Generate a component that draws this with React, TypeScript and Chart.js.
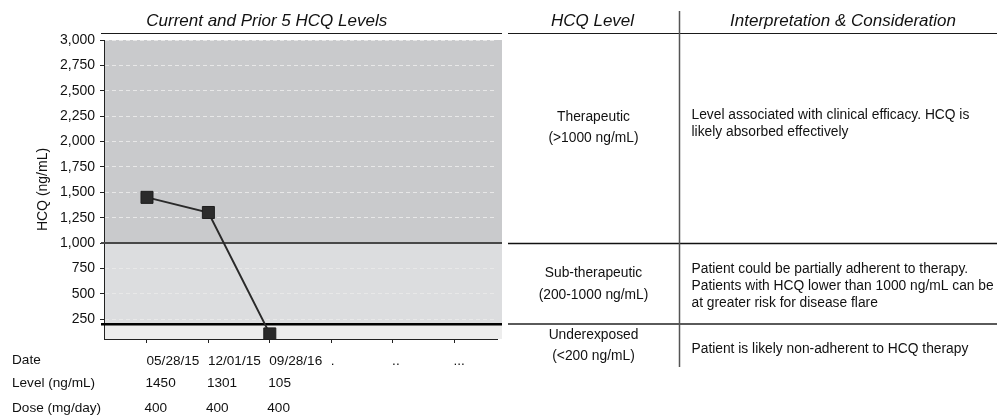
import React, { useEffect, useRef } from 'react';
import { Chart, registerables } from 'chart.js';

Chart.register(...registerables);

const FONT = '"Liberation Sans", Arial, Helvetica, sans-serif';

// ---- data ----
const dates = ['05/28/15', '12/01/15', '09/28/16', '.', '..', '...'];
const levels = [1450, 1301, 105];
const doses = [400, 400, 400];
const yTickValues = [250, 500, 750, 1000, 1250, 1500, 1750, 2000, 2250, 2500, 2750, 3000];
const therapeuticMin = 1000;
const underexposedMax = 200;
const rowLabels = ['Date', 'Level (ng/mL)', 'Dose (mg/day)'];
const chartTitle = 'Current and Prior 5 HCQ Levels';
const yTitle = 'HCQ (ng/mL)';
const tableHeaders = ['HCQ Level', 'Interpretation & Consideration'];
const levelNames = [
  ['Therapeutic', '(>1000 ng/mL)'],
  ['Sub-therapeutic', '(200-1000 ng/mL)'],
  ['Underexposed', '(<200 ng/mL)'],
];
const interpretations = [
  ['Level associated with clinical efficacy. HCQ is', 'likely absorbed effectively'],
  ['Patient could be partially adherent to therapy.', 'Patients with HCQ lower than 1000 ng/mL can be', 'at greater risk for disease flare'],
  ['Patient is likely non-adherent to HCQ therapy'],
];

// ---- layout (positions only) ----
const levelNameBaselines = [[121, 141.5], [276.7, 299], [339.3, 360]];
const interpBaselines = [[119, 135.7], [273.3, 290, 306.7], [353.3]];
const rowLabelBaselines = [363.5, 387, 412.3];
const rowValueBaselines = [365, 387.3, 412.3];

const overlayPlugin = {
  id: 'hcqOverlay',
  beforeDraw(chart: any) {
    const { ctx, chartArea, scales } = chart;
    const y = scales.y;
    const left = chartArea.left + 1;
    const right = chartArea.right + 5;
    const yT = y.getPixelForValue(therapeuticMin);
    const yU = y.getPixelForValue(underexposedMax);
    ctx.save();
    ctx.fillStyle = '#c9cacc';
    ctx.fillRect(left, chartArea.top, right - left, yT - chartArea.top);
    ctx.fillStyle = '#dcdddf';
    ctx.fillRect(left, yT, right - left, yU - yT);
    ctx.fillStyle = '#ededed';
    ctx.fillRect(left, yU, right - left, chartArea.bottom - yU);
    ctx.restore();
  },
  beforeDatasetsDraw(chart: any) {
    const { ctx, chartArea, scales } = chart;
    const y = scales.y;
    const yT = y.getPixelForValue(therapeuticMin);
    const yU = y.getPixelForValue(underexposedMax);
    const x1 = chartArea.left - 3;
    const x2 = chartArea.right + 5;
    ctx.save();
    ctx.strokeStyle = '#484848';
    ctx.lineWidth = 2;
    ctx.beginPath();
    ctx.moveTo(x1, yT);
    ctx.lineTo(x2, yT);
    ctx.stroke();
    ctx.strokeStyle = '#000';
    ctx.lineWidth = 2.5;
    ctx.beginPath();
    ctx.moveTo(x1, yU);
    ctx.lineTo(x2, yU);
    ctx.stroke();
    ctx.restore();
  },
  afterDraw(chart: any) {
    const { ctx, chartArea, scales } = chart;
    const x = scales.x;
    const y = scales.y;
    const yT = Math.round(y.getPixelForValue(therapeuticMin)) + 0.5;
    const yU = Math.round(y.getPixelForValue(underexposedMax));
    ctx.save();
    ctx.fillStyle = '#111';
    ctx.textBaseline = 'alphabetic';

    // titles
    ctx.font = `italic 17px ${FONT}`;
    ctx.textAlign = 'center';
    ctx.fillText(chartTitle, 266.7, 25.5);
    ctx.fillText(tableHeaders[0], 592.5, 25.5);
    ctx.fillText(tableHeaders[1], 843, 25.5);

    // header lines
    ctx.strokeStyle = '#1a1a1a';
    ctx.lineWidth = 1;
    ctx.beginPath();
    ctx.moveTo(chartArea.left - 3, 33.5);
    ctx.lineTo(chartArea.right + 5, 33.5);
    ctx.moveTo(508, 33.5);
    ctx.lineTo(997, 33.5);
    ctx.stroke();

    // table row lines
    ctx.strokeStyle = '#111';
    ctx.lineWidth = 1.5;
    ctx.beginPath();
    ctx.moveTo(508, yT);
    ctx.lineTo(997, yT);
    ctx.stroke();
    ctx.strokeStyle = '#5a5a5a';
    ctx.lineWidth = 2;
    ctx.beginPath();
    ctx.moveTo(508, yU);
    ctx.lineTo(997, yU);
    ctx.stroke();
    ctx.strokeStyle = '#555';
    ctx.lineWidth = 1.5;
    ctx.beginPath();
    ctx.moveTo(679.5, 11);
    ctx.lineTo(679.5, 367);
    ctx.stroke();

    // table texts
    ctx.font = `13.8px ${FONT}`;
    ctx.textAlign = 'center';
    levelNames.forEach((lines, i) => {
      lines.forEach((t, j) => ctx.fillText(t, 593.5, levelNameBaselines[i][j]));
    });
    ctx.textAlign = 'left';
    interpretations.forEach((lines, i) => {
      lines.forEach((t, j) => ctx.fillText(t, 691.5, interpBaselines[i][j]));
    });

    // bottom data table
    ctx.font = `13.6px ${FONT}`;
    rowLabels.forEach((t, i) => ctx.fillText(t, 12, rowLabelBaselines[i]));
    dates.forEach((d, i) => ctx.fillText(d, x.getPixelForValue(i) - 0.5, rowValueBaselines[0]));
    levels.forEach((v, i) => ctx.fillText(String(v), x.getPixelForValue(i) - 1.5, rowValueBaselines[1]));
    doses.forEach((v, i) => ctx.fillText(String(v), x.getPixelForValue(i) - 2.5, rowValueBaselines[2]));
    ctx.restore();
  },
};

export default function App() {
  const canvasRef = useRef<HTMLCanvasElement | null>(null);

  useEffect(() => {
    if (!canvasRef.current) return;
    Chart.defaults.font.family = FONT;
    const chart = new Chart(canvasRef.current, {
      type: 'line',
      data: {
        datasets: [
          {
            data: levels.map((v, i) => ({ x: i, y: v })),
            borderColor: '#2a2a2a',
            backgroundColor: '#2b2b2b',
            borderWidth: 2,
            pointStyle: 'rect',
            pointRadius: 8.5,
            pointBorderWidth: 1,
            pointBackgroundColor: '#2b2b2b',
            pointBorderColor: '#1e1e1e',
            tension: 0,
          },
        ],
      },
      options: {
        animation: false,
        responsive: true,
        maintainAspectRatio: false,
        layout: { padding: { left: 31, top: 40, right: 504, bottom: 0 } },
        plugins: { legend: { display: false }, tooltip: { enabled: false }, title: { display: false } },
        scales: {
          x: {
            type: 'linear',
            min: -0.7,
            max: 5.7,
            afterBuildTicks: (s: any) => {
              s.ticks = dates.map((_, i) => ({ value: i }));
            },
            ticks: { display: false },
            grid: { drawOnChartArea: false, tickLength: 4, color: '#222', tickColor: '#222' },
            border: { color: '#222', width: 1 },
            afterFit: (s: any) => {
              s.height = 79;
            },
          },
          y: {
            type: 'linear',
            min: 55,
            max: 3000,
            afterBuildTicks: (s: any) => {
              s.ticks = yTickValues.map((v) => ({ value: v }));
            },
            ticks: {
              padding: 5,
              color: '#111',
              font: { size: 14, family: FONT },
              callback: (v: any) => Number(v).toLocaleString('en-US'),
            },
            grid: { color: '#e8e8e8', tickColor: '#222', tickLength: 4, lineWidth: 1 },
            border: { color: '#222', width: 1, dash: [4, 3] },
            title: {
              display: true,
              text: yTitle,
              color: '#111',
              font: { size: 14, family: FONT },
              padding: { top: 4, bottom: 0 },
            },
            afterFit: (s: any) => {
              s.width = 73;
            },
          },
        },
      },
      plugins: [overlayPlugin],
    });
    return () => chart.destroy();
  }, []);

  return (
    <div style={{ position: 'absolute', left: 0, top: 0, width: 1001, height: 418, background: '#fff' }}>
      <canvas ref={canvasRef} />
    </div>
  );
}
